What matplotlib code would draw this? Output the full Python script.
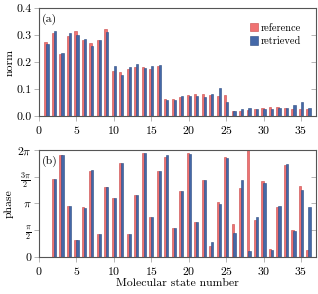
import numpy as np
import matplotlib.pyplot as plt

plt.rcParams['font.family'] = 'cmr10'
plt.rcParams['mathtext.fontset'] = 'cm'
plt.rcParams['axes.formatter.use_mathtext'] = True

states = np.arange(1, 37)

norm_ref = [0.274, 0.307, 0.230, 0.297, 0.316, 0.282, 0.270, 0.282, 0.323,
            0.168, 0.163, 0.175, 0.182, 0.181, 0.175, 0.185,
            0.062, 0.062, 0.070, 0.079, 0.083, 0.081, 0.078, 0.074, 0.078,
            0.019, 0.019, 0.022, 0.026, 0.028, 0.032, 0.032, 0.031, 0.027, 0.025, 0.025]
norm_ret = [0.266, 0.315, 0.235, 0.307, 0.301, 0.286, 0.258, 0.280, 0.312,
            0.186, 0.152, 0.182, 0.192, 0.177, 0.186, 0.188,
            0.058, 0.059, 0.074, 0.074, 0.075, 0.070, 0.081, 0.105, 0.051,
            0.020, 0.025, 0.030, 0.026, 0.027, 0.025, 0.028, 0.031, 0.040, 0.051, 0.028]

phase_ref = [0.0, 4.59, 5.97, 3.00, 0.98, 2.95, 5.05, 1.35, 4.10, 3.47, 5.52, 1.37,
             3.63, 6.09, 2.36, 5.03, 5.87, 1.70, 3.88, 6.09, 2.05, 4.51, 0.66, 3.24,
             5.87, 1.93, 4.08, 6.28, 2.17, 4.47, 0.49, 2.93, 5.40, 1.60, 4.18, 0.41]
phase_ret = [0.0, 4.59, 5.97, 3.00, 0.98, 2.89, 5.11, 1.35, 4.10, 3.47, 5.52, 1.37,
             3.63, 6.09, 2.36, 5.03, 5.97, 1.70, 3.88, 6.03, 2.05, 4.53, 0.86, 3.14,
             5.81, 1.42, 4.51, 0.33, 2.32, 4.33, 0.41, 3.00, 5.44, 1.52, 3.94, 2.93]

phase_ticks = [0, np.pi / 2, np.pi, 3 * np.pi / 2, 2 * np.pi]
phase_labels = ['0', r'$\frac{\pi}{2}$', r'$\pi$', r'$\frac{3\pi}{2}$', r'$2\pi$']

red_fill, red_edge = '#f07272', '#c84848'
blue_fill, blue_edge = '#4468a8', '#2c4a80'
grey = '#555555'

fig = plt.figure(figsize=(3.18, 2.94), dpi=100)
ax1 = fig.add_axes([0.1226, 0.6054, 0.8711, 0.3674])
ax2 = fig.add_axes([0.1226, 0.1259, 0.8711, 0.3639])

w = 0.3
off = 0.13


def style(ax):
    for s in ax.spines.values():
        s.set_color(grey)
        s.set_linewidth(0.8)
    ax.tick_params(axis='both', direction='out', length=3.5, width=0.5,
                   color='#999999', labelsize=8.5, pad=2, top=False, right=False)
    ax.set_xlim(0, 37)
    ax.set_xticks(np.arange(0, 36, 5))
    sec = ax.secondary_yaxis('right')
    sec.set_yticks(ax.get_yticks())
    sec.tick_params(direction='in', length=3.5, width=0.5, color='#999999', labelright=False)
    sec.spines['right'].set_visible(False)


ax1.bar(states - off, norm_ref, w, color=red_fill, edgecolor=red_edge, linewidth=0.4, label='reference')
ax1.bar(states + off, norm_ret, w, color=blue_fill, edgecolor=blue_edge, linewidth=0.4, label='retrieved')
ax1.set_ylim(0, 0.4)
ax1.set_yticks([0.0, 0.1, 0.2, 0.3, 0.4])
ax1.set_yticklabels(['0.0', '0.1', '0.2', '0.3', '0.4'])
style(ax1)
ax1.set_ylabel('norm', fontsize=8.5, labelpad=1)
ax1.text(0.012, 0.95, '(a)', transform=ax1.transAxes, fontsize=8.5, va='top')
ax1.legend(loc='upper right', frameon=False, fontsize=7.5, handlelength=0.8,
           handleheight=0.9, handletextpad=0.3, labelspacing=0.35,
           borderaxespad=0.6, bbox_to_anchor=(0.985, 0.96))

ax2.bar(states - off, phase_ref, w, color=red_fill, edgecolor=red_edge, linewidth=0.4)
ax2.bar(states + off, phase_ret, w, color=blue_fill, edgecolor=blue_edge, linewidth=0.4)
ax2.set_ylim(0, 2 * np.pi)
ax2.set_yticks(phase_ticks)
ax2.set_yticklabels(phase_labels)
style(ax2)
ax2.set_ylabel('phase', fontsize=8.5, labelpad=2)
ax2.set_xlabel('Molecular state number', fontsize=8.5, labelpad=1)
ax2.text(0.012, 0.95, '(b)', transform=ax2.transAxes, fontsize=8.5, va='top')

fig.savefig('out.png', dpi=100)
